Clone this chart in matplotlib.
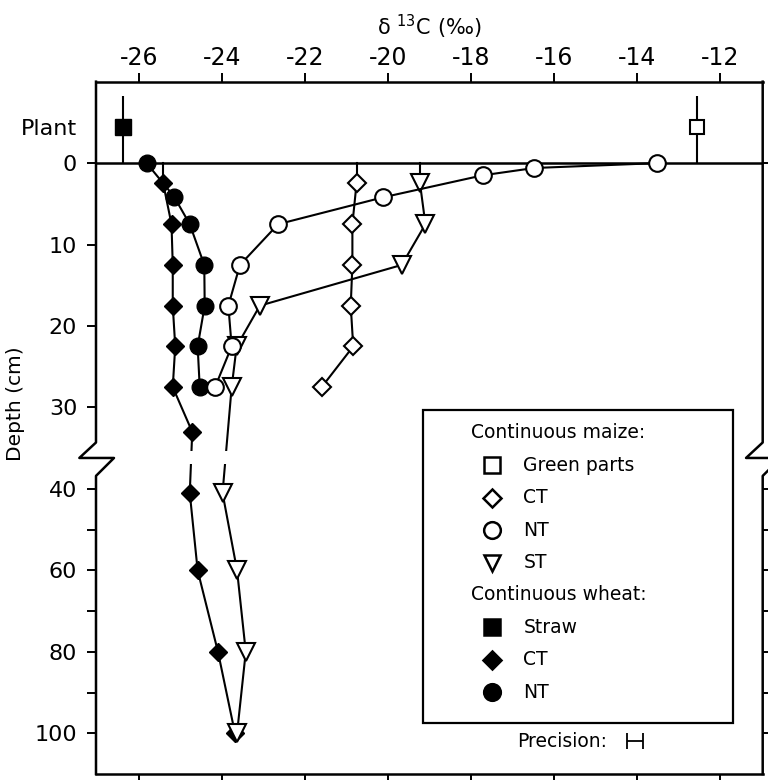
import numpy as np
import matplotlib
matplotlib.use('Agg')
import matplotlib.pyplot as plt
import matplotlib.transforms as mtransforms
from matplotlib.patches import Rectangle
from matplotlib.lines import Line2D

plt.rcParams['font.family'] = ['DejaVu Sans']
plt.rcParams['axes.unicode_minus'] = False

# continuous maize, depth (cm) and delta 13C (per mil)
maize_ct_depth = [2.5, 7.5, 12.5, 17.5, 22.5, 27.5]
maize_ct_d13c = [-20.76, -20.86, -20.86, -20.90, -20.84, -21.60]
maize_nt_depth = [0, 0.6, 1.5, 4.2, 7.5, 12.5, 17.5, 22.5, 27.5]
maize_nt_d13c = [-13.51, -16.48, -17.72, -20.12, -22.65, -23.57, -23.85, -23.77, -24.17]
maize_st_depth = [2.5, 7.5, 12.5, 17.5, 22.5, 27.5, 41, 60, 80, 100]
maize_st_d13c = [-19.23, -19.10, -19.67, -23.09, -23.65, -23.77, -23.99, -23.64, -23.43, -23.64]

# continuous wheat
wheat_ct_depth = [2.5, 7.5, 12.5, 17.5, 22.5, 27.5, 33, 41, 60, 80, 100]
wheat_ct_d13c = [-25.42, -25.22, -25.19, -25.19, -25.13, -25.19, -24.72, -24.78, -24.59, -24.10, -23.69]
wheat_nt_depth = [0, 4.1, 7.5, 12.5, 17.5, 22.5, 27.5]
wheat_nt_d13c = [-25.82, -25.16, -24.78, -24.43, -24.42, -24.59, -24.54]

# plant material (drawn on the "Plant" row above the soil surface)
plant_row = -4.4
plant_bar = (-8.3, 0)
straw_d13c = -26.39
green_d13c = -12.55
precision_half = 0.2

x_ticks = [-26, -24, -22, -20, -18, -16, -14, -12]
y_ticks = [0, 10, 20, 30, 40, 50, 60, 70, 80, 90, 100]
y_labels = ['0', '10', '20', '30', '40', '', '60', '', '80', '', '100']
break_at = (34.3, 36.2, 38.4)


def fwd(d):
    d = np.asarray(d, dtype=float)
    return np.where(d <= 40, d, 40 + (d - 40) / 2)


def inv(y):
    y = np.asarray(y, dtype=float)
    return np.where(y <= 40, y, 40 + (y - 40) * 2)


fig = plt.figure(figsize=(7.68, 7.80), dpi=100)
ax = fig.add_axes([0.125, 0.0077, 0.8681, 0.8876])
ax.set_yscale('function', functions=(fwd, inv))
ax.set_xlim(-27.04, -10.97)
ax.set_ylim(110, -10)

lw = 1.5
kw_open = dict(color='black', lw=lw, mfc='white', mec='black', mew=1.5)
kw_full = dict(color='black', lw=lw, mfc='black', mec='black', mew=1.0)

# surface connectors for the series sampled from 2.5 cm
for xs, ds in [(maize_ct_d13c, maize_ct_depth), (maize_st_d13c, maize_st_depth), (wheat_ct_d13c, wheat_ct_depth)]:
    ax.plot([xs[0], xs[0]], [0, ds[0]], color='black', lw=lw)

ax.plot(wheat_ct_d13c, wheat_ct_depth, marker='D', ms=9.5, **kw_full)
ax.plot(wheat_nt_d13c, wheat_nt_depth, marker='o', ms=12, **kw_full)
ax.plot(maize_ct_d13c, maize_ct_depth, marker='D', ms=9, **kw_open)
ax.plot(maize_st_d13c, maize_st_depth, marker='v', ms=12.5, **kw_open)
ax.plot(maize_nt_d13c, maize_nt_depth, marker='o', ms=12, **kw_open)

ax.vlines([straw_d13c, green_d13c], plant_bar[0], plant_bar[1], color='black', lw=lw)
ax.plot([straw_d13c], [plant_row], marker='s', ms=11, color='black', ls='none')
ax.plot([green_d13c], [plant_row], marker='s', ms=10.5, mfc='white', mec='black', mew=1.5, ls='none')

ax.axhline(0, color='black', lw=1.8, zorder=1.5)
ax.axhspan(35.4, 37.0, color='white', zorder=2.5, lw=0)

# axes frame with broken side spines
for s in ['left', 'right']:
    ax.spines[s].set_visible(False)
for s in ['top', 'bottom']:
    ax.spines[s].set_linewidth(1.8)
tr = mtransforms.blended_transform_factory(ax.transAxes, ax.transData)
for x0 in [0.0, 1.0]:
    zx = [x0, x0, x0 - 0.025, x0 + 0.027, x0, x0]
    zy = [-10, break_at[0], break_at[1], break_at[1], break_at[2], 110]
    ax.plot(zx, zy, color='black', lw=1.8, transform=tr, clip_on=False, zorder=3)

ax.xaxis.tick_top()
ax.set_xticks(x_ticks)
ax.set_xticklabels([str(v) for v in x_ticks])
ax.tick_params(axis='x', top=True, bottom=True, labeltop=True, labelbottom=False,
               direction='out', length=6.5, width=1.4, labelsize=17, pad=2)
ax.set_xlabel('δ $^{13}$C (‰)', fontsize=15)
ax.xaxis.set_label_position('top')
ax.xaxis.labelpad = 8

ax.set_yticks(y_ticks)
ax.set_yticklabels(y_labels)
ax.set_yticks([plant_row], ['Plant'], minor=True)
ax.tick_params(axis='y', which='major', direction='out', length=6.5, width=1.4,
               labelsize=16, pad=7)
ax.tick_params(axis='y', which='minor', length=0, labelsize=16, pad=13.5)
ax.set_ylabel('Depth (cm)', fontsize=14.5)
ax.yaxis.set_label_coords(-0.106, 0.535)

# right-hand ticks (lower section and surface line)
ax2 = ax.twinx()
ax2.set_yscale('function', functions=(fwd, inv))
ax2.set_ylim(110, -10)
ax2.set_yticks([0, 40, 50, 60, 70, 80, 90, 100])
ax2.set_yticklabels([])
ax2.tick_params(axis='y', direction='out', length=6.5, width=1.4)
for s in ax2.spines.values():
    s.set_visible(False)

# legend box drawn by hand
ax.add_patch(Rectangle((0.490, 0.074), 0.466, 0.452, transform=ax.transAxes,
                       facecolor='white', edgecolor='black', lw=1.6, zorder=5))
rows = [
    ('header', 'Continuous maize:', None),
    ('s', 'Green parts', 'white'),
    ('D', 'CT', 'white'),
    ('o', 'NT', 'white'),
    ('v', 'ST', 'white'),
    ('header', 'Continuous wheat:', None),
    ('s', 'Straw', 'black'),
    ('D', 'CT', 'black'),
    ('o', 'NT', 'black'),
]
msz = {'s': 11, 'D': 9, 'o': 12, 'v': 12}
y = 0.4926
for m, label, fc in rows:
    if m == 'header':
        ax.text(0.563, y, label, transform=ax.transAxes, fontsize=13.5,
                va='center', ha='left', zorder=6)
    else:
        ax.add_line(Line2D([0.5935], [y], marker=m, ms=msz[m], mfc=fc, mec='black',
                           mew=1.8, ls='none', transform=ax.transAxes, zorder=6))
        ax.text(0.641, y, label, transform=ax.transAxes, fontsize=13.5,
                va='center', ha='left', zorder=6)
    y -= 0.0468

ax.text(0.632, 0.047, 'Precision:', transform=ax.transAxes, fontsize=13.5,
        va='center', ha='left')
ax.errorbar([-14.05], [101.9], xerr=precision_half, fmt='none', ecolor='black',
            elinewidth=1.3, capsize=6, capthick=1.3)

fig.savefig('out.png', dpi=100)
